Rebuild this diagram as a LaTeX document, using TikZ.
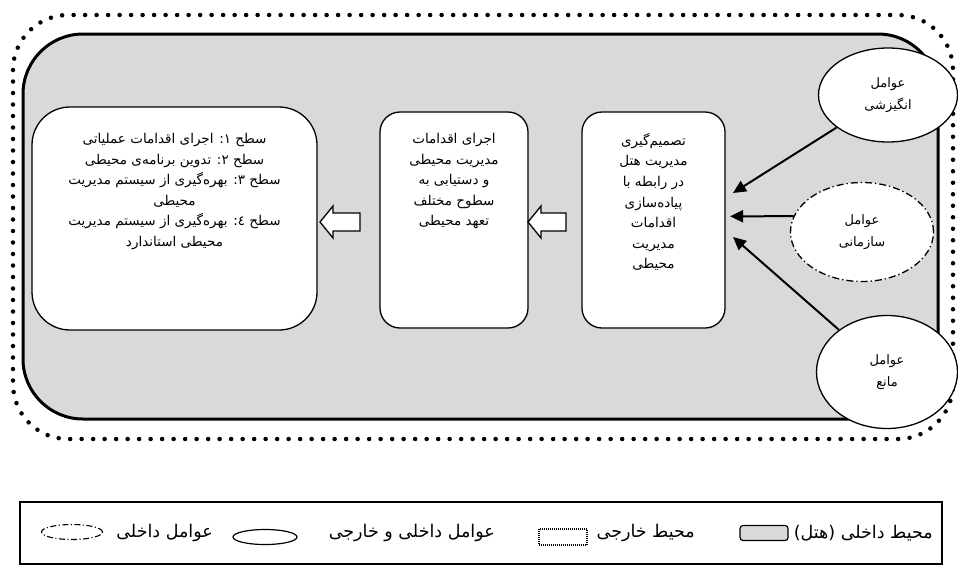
\documentclass[tikz,border=0pt]{standalone}
\usepackage{fontspec}
\newfontfamily\arabicfont[Script=Arabic]{DejaVu Sans}
\TeXXeTstate=1
\usetikzlibrary{arrows.meta,shapes.geometric}
\newcommand\fa[1]{\beginR#1\endR}
\definecolor{hotelgray}{HTML}{D9D9D9}
\begin{document}
\begin{tikzpicture}[x=1pt,y=-1pt,
  boxshape/.style={draw, line width=1.3pt, fill=white, inner sep=0pt},
  txt/.style={font=\fontsize{13.5}{20.6}\selectfont\arabicfont, align=center, inner sep=0pt},
  factor/.style={ellipse, draw, line width=1.3pt, fill=white, inner sep=0pt, font=\fontsize{13}{22}\selectfont\arabicfont, align=center},
  dashdotline/.style={dash pattern=on 7pt off 3pt on 1.3pt off 3pt},
  infl/.style={line width=2pt, -{Triangle[length=13pt,width=12pt]}},
  hollow/.style={draw, line width=1.3pt, fill=white, line join=miter},
  legtxt/.style={font=\fontsize{17.5}{20}\selectfont\arabicfont, inner sep=0pt}
]
\useasboundingbox (0,0) rectangle (958,566);
% outer environment (dotted)
\draw[line width=4.5pt, line cap=round, dash pattern=on 0pt off 11.5pt, rounded corners=55pt] (13,15) rectangle (953,439);
% inner environment (hotel)
\draw[line width=3pt, fill=hotelgray, rounded corners=60pt] (23,34) rectangle (938,419);
% boxes
\node[boxshape, rounded corners=20pt, minimum width=143pt, minimum height=216pt] (b1) at (653.5,220) {};
\node[boxshape, rounded corners=20pt, minimum width=148pt, minimum height=216pt] (b2) at (454,220) {};
\node[boxshape, rounded corners=38pt, minimum width=285pt, minimum height=223pt] (b3) at (174.5,218.5) {};
\node[txt, anchor=north] (t1) at (653.5,133) {\fa{تصمیم‌گیری}\\\fa{مدیریت هتل}\\\fa{در رابطه با}\\\fa{پیاده‌سازی}\\\fa{اقدامات}\\\fa{مدیریت}\\\fa{محیطی}};
\node[txt, anchor=north] (t2) at (454,133) {\fa{اجرای اقدامات}\\\fa{مدیریت محیطی}\\\fa{و دستیابی به}\\\fa{سطوح مختلف}\\\fa{تعهد محیطی}};
\node[txt, anchor=north] (t3) at (174.5,133) {\fa{سطح ۱: اجرای اقدامات عملیاتی}\\\fa{سطح ۲: تدوین برنامه‌ی محیطی}\\\fa{سطح ۳: بهره‌گیری از سیستم مدیریت}\\\fa{محیطی}\\\fa{سطح ٤: بهره‌گیری از سیستم مدیریت}\\\fa{محیطی استاندارد}};
% hollow arrows
\draw[hollow] (320,222) -- (333,206) -- (333,213) -- (360,213) -- (360,231) -- (333,231) -- (333,238) -- cycle;
\draw[hollow] (528,222) -- (541,206) -- (541,213) -- (566,213) -- (566,231) -- (541,231) -- (541,238) -- cycle;
% factors
\node[factor, minimum width=139pt, minimum height=94pt] (e1) at (888,95) {\fa{عوامل}\\\fa{انگیزشی}};
\node[factor, dashdotline, minimum width=143pt, minimum height=99pt] (e2) at (862,232) {\fa{عوامل}\\\fa{سازمانی}};
\node[factor, minimum width=141pt, minimum height=113pt] (e3) at (887,372) {\fa{عوامل}\\\fa{مانع}};
\coordinate (p1) at (733,193);
\coordinate (p2) at (730,216.3);
\coordinate (p3) at (733,237);
\draw[infl] (e1) -- (p1);
\draw[infl] (e2.167) -- (p2);
\draw[infl] (e3) -- (p3);
% legend
\draw[line width=1.8pt] (20,502) rectangle (942,564);
\node[legtxt, anchor=east] (l1) at (933,533) {\fa{محیط داخلی (هتل)}};
\node[draw, fill=hotelgray, rounded corners=3pt, line width=1.2pt, minimum width=48pt, minimum height=15pt, inner sep=0pt, anchor=east] (lg1) at ([xshift=-5pt]l1.west) {};
\node[legtxt, anchor=east] (l2) at (695,533) {\fa{محیط خارجی}};
\node[draw, line width=1.1pt, dash pattern=on 1pt off 1pt, minimum width=48pt, minimum height=16pt, inner sep=0pt] (lg2) at (563,537) {};
\node[legtxt, anchor=east] (l3) at (495,533) {\fa{عوامل داخلی و خارجی}};
\node[draw, ellipse, line width=1.2pt, minimum width=64pt, minimum height=15pt, inner sep=0pt] (lg3) at (265,537) {};
\node[legtxt, anchor=east] (l4) at (213,533) {\fa{عوامل داخلی}};
\node[draw, ellipse, line width=1.1pt, dash pattern=on 6pt off 2.5pt on 1.1pt off 2.5pt, minimum width=61pt, minimum height=15pt, inner sep=0pt] (lg4) at (72,532) {};
\end{tikzpicture}
\end{document}
